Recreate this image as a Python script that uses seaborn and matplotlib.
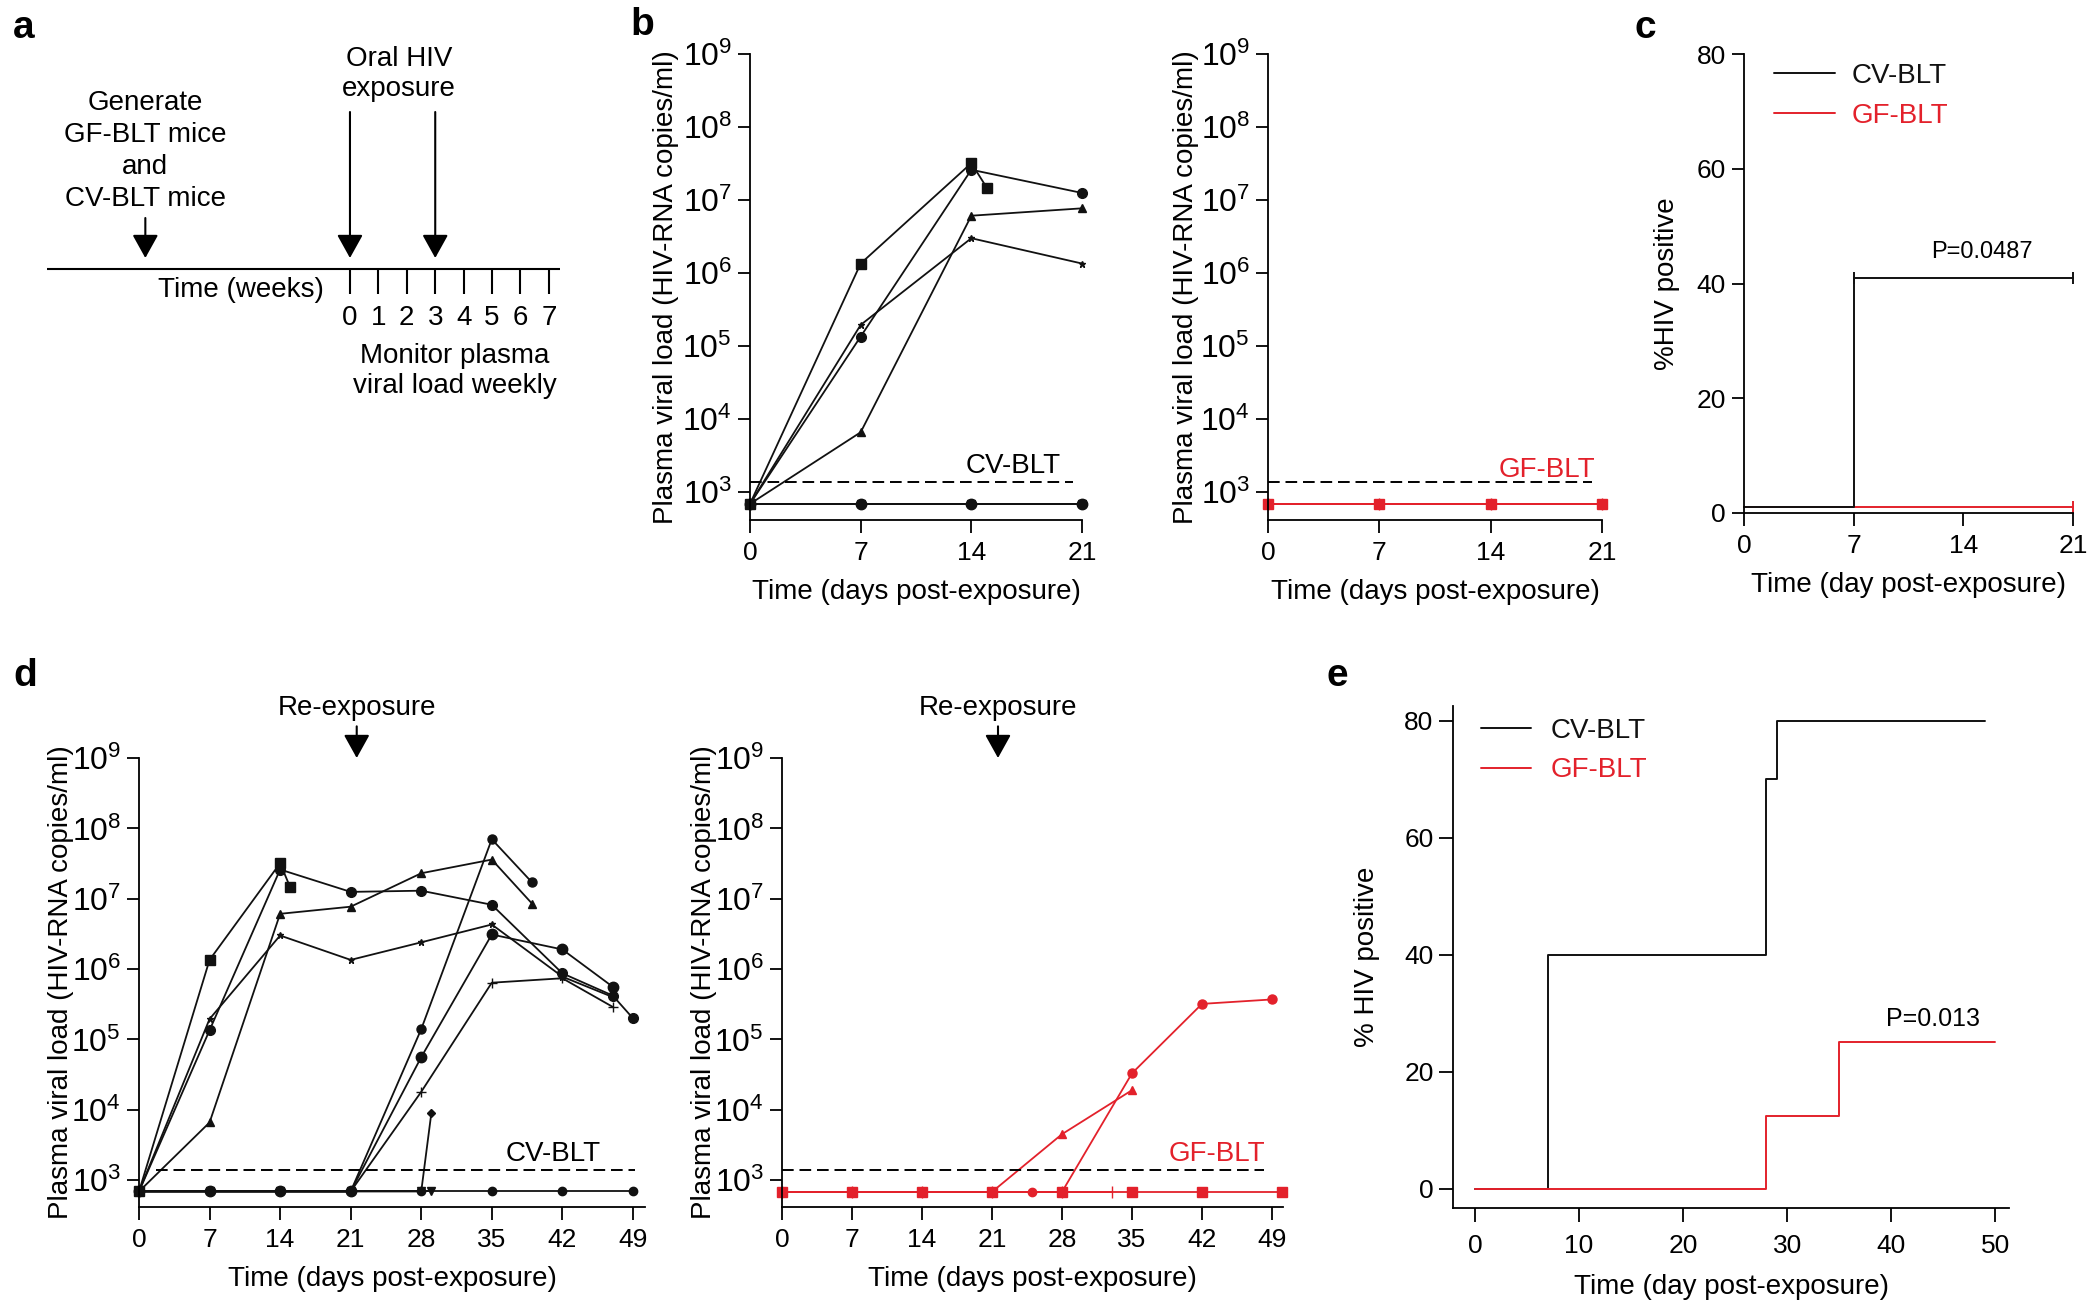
import numpy as np
import matplotlib
matplotlib.use("Agg")
import matplotlib.pyplot as plt
import matplotlib.ticker as mticker
import seaborn as sns

RED = "#E3212B"
BLACK = "#111111"

# ---- panel a: schedule ----
weeks = [0, 1, 2, 3, 4, 5, 6, 7]
exposure_weeks = [0, 3]
generate_week = -7.2

# ---- viral load, CV-BLT mice (days post exposure, copies/ml) ----
detection_limit = 1380
cv_sq_days = [0, 7, 14, 15]
cv_sq_load = [690, 1.35e6, 3.2e7, 1.45e7]
cv_ci_days = [0, 7, 14, 21, 28, 35, 42, 47, 49]
cv_ci_load = [690, 1.35e5, 2.6e7, 1.25e7, 1.3e7, 8.2e6, 8.7e5, 4.2e5, 2.0e5]
cv_tri_days = [0, 7, 14, 21, 28, 35, 39]
cv_tri_load = [690, 6.6e3, 6.1e6, 7.7e6, 2.3e7, 3.6e7, 8.5e6]
cv_star_days = [0, 7, 14, 21, 28, 35, 42, 47]
cv_star_load = [690, 1.95e5, 3.0e6, 1.35e6, 2.4e6, 4.3e6, 7.8e5, 4.0e5]
cv_reA_days = [0, 7, 14, 21, 28, 35, 39]
cv_reA_load = [690, 690, 690, 690, 1.4e5, 7.0e7, 1.7e7]
cv_reB_days = [0, 7, 14, 21, 28, 35, 42, 47]
cv_reB_load = [690, 690, 690, 690, 5.6e4, 3.1e6, 1.9e6, 5.6e5]
cv_plus_days = [0, 7, 14, 21, 28, 35, 42, 47]
cv_plus_load = [690, 690, 690, 690, 1.8e4, 6.4e5, 7.4e5, 2.9e5]
cv_dia_days = [0, 7, 14, 21, 28, 29]
cv_dia_load = [690, 690, 690, 690, 690, 8.9e3]
cv_neg_days = [0, 7, 14, 21, 28, 35, 42, 49]
cv_neg_load = [690, 690, 690, 690, 690, 690, 690, 690]
cv_vt_days = [0, 7, 14, 21, 28, 29]
cv_vt_load = [690, 690, 690, 690, 690, 690]

# ---- viral load, GF-BLT mice ----
gf_sq_days = [0, 7, 14, 21, 28, 35, 42, 50]
gf_sq_load = [680, 680, 680, 680, 680, 680, 680, 680]
gf_ci_end_days = [0, 7, 14, 21, 25]
gf_ci_end_load = [680, 680, 680, 680, 680]
gf_cens_days = [0, 7, 14, 21, 28, 33]
gf_cens_load = [680, 680, 680, 680, 680, 680]
gf_tri_days = [0, 7, 14, 21, 28, 35]
gf_tri_load = [680, 680, 680, 680, 4.5e3, 1.9e4]
gf_ci_days = [0, 7, 14, 21, 28, 35, 42, 49]
gf_ci_load = [680, 680, 680, 680, 680, 3.3e4, 3.2e5, 3.7e5]

# ---- % HIV positive ----
c_cv_days = [0, 7, 21]
c_cv_pct = [1, 41, 41]
c_cv_censored = [7, 21]
c_gf_days = [0, 21]
c_gf_pct = [1, 1]
c_gf_censored = [21]
e_cv_days = [0, 7, 28, 29, 49]
e_cv_pct = [0, 40, 70, 80, 80]
e_gf_days = [0, 28, 35, 50]
e_gf_pct = [0, 12.5, 25, 25]

decades = [1e3, 1e4, 1e5, 1e6, 1e7, 1e8, 1e9]

sns.set_theme(style="ticks")
plt.rcParams["font.family"] = ["Liberation Sans", "DejaVu Sans"]
plt.rcParams.update({
    "mathtext.fontset": "custom",
    "mathtext.rm": "Liberation Sans",
    "mathtext.it": "Liberation Sans",
    "mathtext.bf": "Liberation Sans:bold",
    "axes.linewidth": 1.3,
    "axes.edgecolor": "black",
    "axes.labelcolor": "black",
    "text.color": "black",
    "xtick.color": "black",
    "ytick.color": "black",
    "xtick.major.width": 1.3,
    "ytick.major.width": 1.3,
    "xtick.major.size": 9,
    "ytick.major.size": 9,
    "xtick.major.pad": 6,
    "ytick.major.pad": 4,
    "xtick.labelsize": 19,
    "ytick.labelsize": 19,
    "axes.labelsize": 20,
    "axes.labelpad": 10,
})

fig = plt.figure(figsize=(21, 13.1), dpi=100)
W, H = 2100, 1310


def px_axes(left, top, right, bottom):
    return fig.add_axes([left / W, 1 - bottom / H, (right - left) / W, (bottom - top) / H])


def mouse(ax, days, load, marker, color, ms=6):
    sns.lineplot(x=days, y=load, ax=ax, color=color, marker=marker, markersize=ms,
                 markeredgecolor=color, markeredgewidth=1.0, linewidth=1.3,
                 clip_on=False, legend=False, sort=False, estimator=None)


def style_vl(ax, xmax, xticks, ylab_x):
    ax.set_yscale("log")
    ax.set_ylim(415, 1e9)
    ax.set_yticks(decades)
    ax.set_yticklabels([f"$10^{{{int(np.log10(v))}}}$" for v in decades], fontsize=23)
    ax.yaxis.set_minor_locator(mticker.NullLocator())
    ax.set_xlim(0, xmax)
    ax.set_xticks(xticks)
    ax.set_xlabel("Time (days post-exposure)")
    ax.set_ylabel("Plasma viral load (HIV-RNA copies/ml)")
    ax.yaxis.set_label_coords(ylab_x, 0.5)
    sns.despine(ax=ax)


def cut(days, load, last):
    keep = [i for i, d in enumerate(days) if d <= last]
    return [days[i] for i in keep], [load[i] for i in keep]


cv_mice = [
    (cv_neg_days, cv_neg_load, "o", 6),
    (cv_vt_days, cv_vt_load, "v", 6),
    (cv_dia_days, cv_dia_load, "D", 4.5),
    (cv_plus_days, cv_plus_load, "+", 7),
    (cv_reB_days, cv_reB_load, "o", 7.5),
    (cv_reA_days, cv_reA_load, "o", 6.5),
    (cv_star_days, cv_star_load, "*", 5),
    (cv_tri_days, cv_tri_load, "^", 6),
    (cv_ci_days, cv_ci_load, "o", 7),
    (cv_sq_days, cv_sq_load, "s", 7),
]
gf_mice = [
    (gf_ci_end_days, gf_ci_end_load, "o", 6),
    (gf_cens_days, gf_cens_load, "|", 8),
    (gf_tri_days, gf_tri_load, "^", 6),
    (gf_ci_days, gf_ci_load, "o", 6.5),
    (gf_sq_days, gf_sq_load, "s", 6.5),
]

# ---------------- panel a ----------------
ax_a = px_axes(47, 0, 560, 430)
ax_a.set_xlim(-10.66, 7.39)
ax_a.set_ylim(430, 0)
ax_a.axis("off")
line_y = 269
ax_a.plot([-10.66, 7.39], [line_y, line_y], color="black", lw=1.5)
ax_a.vlines(weeks, line_y, line_y + 25, color="black", lw=1.5)
for w in weeks:
    ax_a.text(w, 318, str(w), ha="center", va="center", fontsize=20)
ax_a.text(-3.83, 290, "Time (weeks)", ha="center", va="center", fontsize=20)
arrow = dict(arrowstyle="-|>,head_length=0.72,head_width=0.4", lw=1.5, color="black",
             shrinkA=0, shrinkB=0, mutation_scale=20)
ax_a.annotate("", xy=(generate_week, 258), xytext=(generate_week, 218), arrowprops=arrow)
for w in exposure_weeks:
    ax_a.annotate("", xy=(w, 258), xytext=(w, 112), arrowprops=arrow)
ax_a.text(generate_week, 151, "Generate\nGF-BLT mice\nand\nCV-BLT mice", ha="center", va="center",
          fontsize=20, linespacing=1.3)
ax_a.text(1.72, 74, "Oral HIV\nexposure", ha="center", va="center", fontsize=20, linespacing=1.15)
ax_a.text(3.7, 371, "Monitor plasma\nviral load weekly", ha="center", va="center", fontsize=20,
          linespacing=1.22)

# ---------------- panel b ----------------
ax_b1 = px_axes(750, 54, 1082, 520)
ax_b1.set_yscale("log")
for d, v, m, ms in cv_mice:
    dd, vv = cut(d, v, 21)
    mouse(ax_b1, dd, vv, m, BLACK, ms)
ax_b1.plot([0, 20.4], [detection_limit] * 2, color="black", lw=1.4, ls=(0, (6, 3)))
ax_b1.text(19.64, 1830, "CV-BLT", ha="right", va="baseline", fontsize=20)
style_vl(ax_b1, 21, [0, 7, 14, 21], -0.214)

ax_b2 = px_axes(1268, 54, 1602, 520)
ax_b2.set_yscale("log")
for d, v, m, ms in gf_mice:
    dd, vv = cut(d, v, 21)
    if d[-1] < 21:
        continue
    mouse(ax_b2, dd, vv, m, RED, ms)
ax_b2.plot([0, 20.4], [detection_limit] * 2, color="black", lw=1.4, ls=(0, (6, 3)))
ax_b2.text(20.56, 1620, "GF-BLT", ha="right", va="baseline", fontsize=20, color=RED)
style_vl(ax_b2, 21, [0, 7, 14, 21], -0.207)

# ---------------- panel c ----------------
ax_c = px_axes(1744, 54, 2073, 513)
sns.lineplot(x=c_gf_days, y=c_gf_pct, ax=ax_c, color=RED, drawstyle="steps-post", lw=1.4,
             clip_on=False, label="GF-BLT", estimator=None)
sns.lineplot(x=c_cv_days, y=c_cv_pct, ax=ax_c, color=BLACK, drawstyle="steps-post", lw=1.4,
             clip_on=False, label="CV-BLT", estimator=None)
ax_c.plot(c_gf_censored, [c_gf_pct[-1]] * len(c_gf_censored), ls="none", marker="|",
          ms=9, mew=1.4, color=RED, clip_on=False)
ax_c.plot(c_cv_censored, [c_cv_pct[-1]] * len(c_cv_censored), ls="none", marker="|",
          ms=9, mew=1.4, color=BLACK, clip_on=False)
ax_c.set_xlim(0, 21)
ax_c.set_ylim(0, 80)
ax_c.set_xticks([0, 7, 14, 21])
ax_c.set_yticks([0, 20, 40, 60, 80])
ax_c.set_xlabel("Time (day post-exposure)")
ax_c.set_ylabel("%HIV positive")
ax_c.yaxis.set_label_coords(-0.195, 0.5)
ax_c.text(15.2, 44.5, "P=0.0487", ha="center", va="baseline", fontsize=17)
h, l = ax_c.get_legend_handles_labels()
ax_c.legend(h[::-1], l[::-1], frameon=False, loc="upper left", bbox_to_anchor=(0.09, 0.98),
            borderaxespad=0, borderpad=0, fontsize=20, handlelength=2.2, handletextpad=0.6,
            labelspacing=0.5, labelcolor="linecolor")
sns.despine(ax=ax_c)

# ---------------- panel d ----------------
ax_d1 = px_axes(139, 758, 645, 1207)
ax_d1.set_yscale("log")
for d, v, m, ms in cv_mice:
    mouse(ax_d1, d, v, m, BLACK, ms)
ax_d1.plot([1.7, 49.2], [detection_limit] * 2, color="black", lw=1.4, ls=(0, (6, 3)))
ax_d1.text(45.8, 1850, "CV-BLT", ha="right", va="baseline", fontsize=20)
style_vl(ax_d1, 50.2, [0, 7, 14, 21, 28, 35, 42, 49], -0.128)

ax_d2 = px_axes(782, 758, 1283, 1207)
ax_d2.set_yscale("log")
for d, v, m, ms in gf_mice:
    mouse(ax_d2, d, v, m, RED, ms)
ax_d2.plot([0, 48.2], [detection_limit] * 2, color="black", lw=1.4, ls=(0, (6, 3)))
ax_d2.text(48.3, 1900, "GF-BLT", ha="right", va="baseline", fontsize=20, color=RED)
style_vl(ax_d2, 50.1, [0, 7, 14, 21, 28, 35, 42, 49], -0.130)

for ax in (ax_d1, ax_d2):
    ax.text(21.6, 10 ** 9.52, "Re-exposure", ha="center", va="bottom", fontsize=20, clip_on=False)
    ax.annotate("", xy=(21.6, 1e9), xytext=(21.6, 10 ** 9.45), arrowprops=arrow,
                annotation_clip=False)

# ---------------- panel e ----------------
ax_e = px_axes(1453, 706, 2009, 1208)
sns.lineplot(x=e_cv_days, y=e_cv_pct, ax=ax_e, color=BLACK, drawstyle="steps-post", lw=1.4,
             label="CV-BLT", estimator=None)
sns.lineplot(x=e_gf_days, y=e_gf_pct, ax=ax_e, color=RED, drawstyle="steps-post", lw=1.4,
             label="GF-BLT", estimator=None)
ax_e.set_xlim(-2.1, 51.3)
ax_e.set_ylim(-3.3, 82.5)
ax_e.set_xticks([0, 10, 20, 30, 40, 50])
ax_e.set_yticks([0, 20, 40, 60, 80])
ax_e.tick_params(length=10, labelsize=19)
ax_e.tick_params(axis="x", pad=9)
ax_e.set_xlabel("Time (day post-exposure)", fontsize=20, labelpad=11)
ax_e.set_ylabel("% HIV positive", fontsize=20)
ax_e.yaxis.set_label_coords(-0.131, 0.5)
ax_e.text(44.0, 27.8, "P=0.013", ha="center", va="baseline", fontsize=18)
ax_e.legend(frameon=False, loc="upper left", bbox_to_anchor=(0.051, 0.976), borderaxespad=0,
            borderpad=0, fontsize=20, handlelength=1.8, handletextpad=0.7, labelspacing=0.48,
            labelcolor="linecolor")
sns.despine(ax=ax_e)

# panel letters
for x, y, s in [(13, 38, "a"), (630, 35, "b"), (1634, 38, "c"), (13, 686, "d"), (1326, 686, "e")]:
    fig.text(x / W, 1 - y / H, s, fontsize=28, fontweight="bold", va="baseline")

fig.savefig("out.png", dpi=100)
